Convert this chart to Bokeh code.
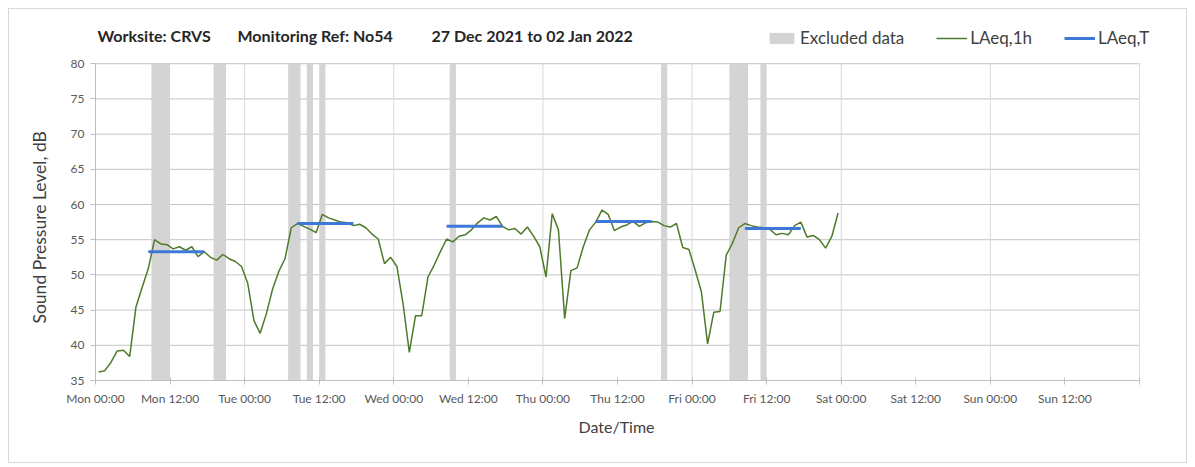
import numpy as np
from bokeh.plotting import figure
from bokeh.models import (ColumnDataSource, FixedTicker, Legend, LegendItem, Label, Range1d, Title)
from bokeh.embed import file_html
from bokeh.resources import INLINE

# ---- data ----
# hourly LAeq,1h values from Mon 27 Dec 2021 00:00 (hour index 0) to Fri 23:00 (index 119)
laeq_1h = [
    36.2, 36.4, 37.6, 39.2, 39.3, 38.4, 45.4, 48.2, 50.9, 55.0,
    54.4, 54.3, 53.7, 54.0, 53.5, 54.0, 52.6, 53.3, 52.5, 52.1,
    52.9, 52.3, 51.9, 51.2, 48.8, 43.5, 41.7, 44.5, 48.0, 50.5,
    52.3, 56.7, 57.3, 56.9, 56.5, 56.0, 58.6, 58.1, 57.8, 57.5,
    57.4, 57.0, 57.2, 56.7, 55.8, 55.1, 51.6, 52.5, 51.2, 45.9,
    39.0, 44.2, 44.2, 49.7, 51.4, 53.3, 55.1, 54.7, 55.5, 55.7,
    56.4, 57.4, 58.1, 57.8, 58.3, 56.9, 56.4, 56.6, 55.8, 56.8,
    55.5, 54.0, 49.7, 58.7, 56.4, 43.8, 50.6, 51.0, 54.0, 56.4,
    57.5, 59.2, 58.6, 56.3, 56.8, 57.1, 57.6, 56.9, 57.4, 57.6,
    57.5, 57.0, 56.8, 57.3, 53.9, 53.6, 50.7, 47.6, 40.2, 44.7,
    44.8, 52.8, 54.5, 56.7, 57.3, 57.0, 56.8, 56.7, 56.5, 55.7,
    55.9, 55.7, 57.0, 57.5, 55.4, 55.6, 55.0, 53.8, 55.5, 58.8,
]
hour_index = list(range(len(laeq_1h)))   # hours since Mon 00:00
point_offset = 0.5                        # plotted at mid-hour

# LAeq,T daytime periods (first and last hour index) and values
laeqT_start = [8, 32, 56, 80, 104]
laeqT_end = [17, 41, 65, 89, 113]
laeqT_value = [53.3, 57.3, 56.9, 57.6, 56.6]

# excluded data periods (hours since Mon 00:00)
excl_start = [9, 19, 31, 34, 36, 57, 91, 102, 107]
excl_end = [12, 21, 33, 35, 37, 58, 92, 105, 108]

x_min, x_max = 0, 168
tick_hours = list(range(x_min, x_max + 1, 12))
tick_labels = ["Mon 00:00", "Mon 12:00", "Tue 00:00", "Tue 12:00", "Wed 00:00",
               "Wed 12:00", "Thu 00:00", "Thu 12:00", "Fri 00:00", "Fri 12:00",
               "Sat 00:00", "Sat 12:00", "Sun 00:00", "Sun 12:00", ""]
day_hours = list(range(x_min, x_max + 1, 24))
y_min, y_max = 35, 80
y_ticks = list(range(y_min, y_max + 1, 5))

title_parts = ["Worksite: CRVS", "Monitoring Ref: No54", "27 Dec 2021 to 02 Jan 2022"]
y_label = "Sound Pressure Level, dB"
x_label = "Date/Time"

FONT = "Lato"
TXT = "#404040"

# the frame reaches up and right to hold the title/legend row; axes and grids stop at the data span
p = figure(width=1179, height=455, output_backend="svg", toolbar_location=None, title=None,
           x_range=Range1d(x_min, 172.67), y_range=Range1d(y_min, 86),
           min_border_left=86, min_border_right=20, min_border_top=12, min_border_bottom=84)
p.styles = {"margin-left": "8px", "margin-top": "8px", "border": "1px solid #d9d9d9",
            "box-sizing": "border-box"}
p.outline_line_color = None
p.background_fill_color = "white"
p.border_fill_color = "white"
p.xgrid.visible = False
p.ygrid.visible = False

# gridlines limited to the data span
p.segment(x0=[x_min]*len(y_ticks), y0=y_ticks, x1=[x_max]*len(y_ticks), y1=y_ticks,
          line_color="#c4c4c4", line_width=1)
p.segment(x0=day_hours, y0=[y_min]*len(day_hours), x1=day_hours, y1=[y_max]*len(day_hours),
          line_color="#d9d9d9", line_width=1)

# excluded bars
src_ex = ColumnDataSource(dict(left=excl_start, right=excl_end,
                               bottom=[y_min]*len(excl_start), top=[y_max]*len(excl_start)))
r_ex = p.quad(left="left", right="right", bottom="bottom", top="top", source=src_ex,
              fill_color="#d4d4d4", line_color=None)

# LAeq,1h line
xs = [h + point_offset for h in hour_index]
r_1h = p.line(xs, laeq_1h, line_color="#4f7a2c", line_width=1.5)

# LAeq,T segments
src_T = ColumnDataSource(dict(x0=[s + point_offset for s in laeqT_start],
                              x1=[e + point_offset for e in laeqT_end],
                              y=laeqT_value))
r_T = p.segment(x0="x0", y0="y", x1="x1", y1="y", source=src_T,
                line_color="#3d78d6", line_width=3)

# axes
p.xaxis.ticker = FixedTicker(ticks=tick_hours)
p.xaxis.bounds = (x_min, x_max)
p.xaxis.major_label_overrides = {h: l for h, l in zip(tick_hours, tick_labels)}
p.xaxis.minor_tick_line_color = None
p.xaxis.major_tick_in = 3
p.xaxis.major_tick_out = 4
p.xaxis.major_label_standoff = 6

p.yaxis.ticker = FixedTicker(ticks=y_ticks)
p.yaxis.bounds = (y_min, y_max)
p.yaxis.minor_tick_line_color = None
p.yaxis.major_tick_in = 0
p.yaxis.major_tick_out = 5
p.yaxis.major_label_standoff = 6

for ax in (p.xaxis[0], p.yaxis[0]):
    ax.axis_line_color = "#bfbfbf"
    ax.major_tick_line_color = "#bfbfbf"
    ax.major_label_text_font = FONT
    ax.major_label_text_font_size = "12px"
    ax.major_label_text_color = "#595959"

# x axis title centred on the 0-168 span (the frame is wider than the axis)
p.add_layout(Title(text=x_label, align="left", offset=483, standoff=13,
                   text_font=FONT, text_font_size="16px", text_font_style="normal",
                   text_color=TXT), "below")

# y axis title as a side title so it can be centred on the 35-80 span
p.add_layout(Title(text=y_label, align="left", offset=57, standoff=35,
                   text_font=FONT, text_font_size="17.5px", text_font_style="normal",
                   text_color=TXT), "left")

# chart title, in three spaced parts
for part, sx in zip(title_parts, [2, 142, 336]):
    p.add_layout(Label(x=sx, y=345, x_units="screen", y_units="screen", text=part,
                       text_font=FONT, text_font_size="16px", text_font_style="bold",
                       text_color="#262626", text_baseline="middle"))

legend = Legend(items=[LegendItem(label="Excluded data", renderers=[r_ex]),
                       LegendItem(label="LAeq,1h", renderers=[r_1h]),
                       LegendItem(label="LAeq,T", renderers=[r_T])],
                orientation="horizontal", location=(671, 332),
                glyph_width=31, glyph_height=14, label_standoff=3, spacing=32,
                padding=0, margin=0, border_line_color=None, background_fill_alpha=0,
                label_text_font=FONT, label_text_font_size="17px", label_text_color=TXT)
p.add_layout(legend, "center")

open("out.html", "w").write(file_html(p, INLINE))
